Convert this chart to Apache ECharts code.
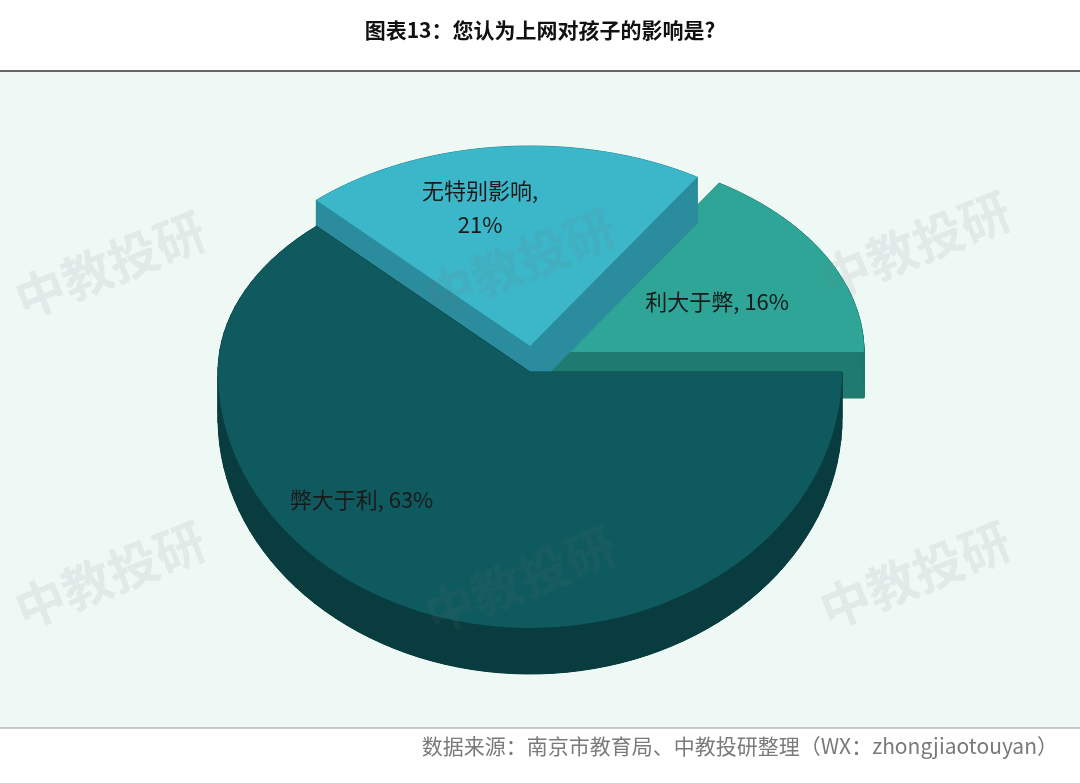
<!DOCTYPE html>
<html><head><meta charset="utf-8">
<script src="https://cdn.jsdelivr.net/npm/echarts@6/dist/echarts.min.js"></script>
<style>html,body{margin:0;background:#fff}#c{width:1080px;height:783px}</style>
</head><body><div id="c"></div>
<script>
// 数据
const names = ['利大于弊', '无特别影响', '弊大于利'];
const values = [16, 21, 63];
const labels = ['利大于弊, 16%', '无特别影响,\n21%', '弊大于利, 63%'];

// 样式
const topColors = ['#2fa597', '#3cb6c9', '#0f5a5e'];
const sideColors = ['#1f7a70', '#2a8c9c', '#093c3f'];
const offsets = [[22, -20], [0, -26], [0, 0]];
const labelAt = [[0.6, -0.35], [-0.16, -0.82], [-0.54, 0.5]];
const CX = 530, CY = 372, RX = 312, RY_UP = 200, RY_DOWN = 256, DEPTH = 46;

const total = values.reduce((a, b) => a + b, 0);
const starts = [];
let acc = 0;
values.forEach(v => { starts.push(acc / total * Math.PI * 2); acc += v; });

function renderItem(params, api) {
  const i = params.dataIndex;
  const a0 = starts[i], a1 = a0 + values[i] / total * Math.PI * 2;
  const cx = CX + offsets[i][0], cy = CY + offsets[i][1];
  const pts = [[cx, cy]];
  const n = 90;
  for (let k = 0; k <= n; k++) {
    const a = a0 + (a1 - a0) * k / n;
    const s = Math.sin(a);
    pts.push([cx + RX * Math.cos(a), cy - (s > 0 ? RY_UP : RY_DOWN) * s]);
  }
  const children = [];
  for (let k = 0; k < pts.length; k++) {
    const p = pts[k], q = pts[(k + 1) % pts.length];
    children.push({ type: 'polygon', shape: { points: [p, q, [q[0], q[1] + DEPTH], [p[0], p[1] + DEPTH]] },
      style: { fill: sideColors[i], stroke: sideColors[i], lineWidth: 1 } });
  }
  children.push({ type: 'polygon', shape: { points: pts.map(p => [p[0], p[1] + DEPTH]) }, style: { fill: sideColors[i] } });
  children.push({ type: 'polygon', shape: { points: pts }, style: { fill: topColors[i] } });
  children.push({ type: 'text', x: CX + labelAt[i][0] * RX, y: CY + labelAt[i][1] * (labelAt[i][1] < 0 ? RY_UP : RY_DOWN),
    style: { text: labels[i], fill: '#1a1a1a', font: '22px "Noto Sans CJK SC", sans-serif', align: 'center', verticalAlign: 'middle', lineHeight: 34 } });
  return { type: 'group', children };
}

const marks = [[110, 265], [520, 262], [915, 245], [110, 575], [520, 580], [915, 575]];
const watermarks = marks.map(m => ({ type: 'text', x: m[0], y: m[1], rotation: 0.38, z: 10,
  style: { text: '中教投研', fill: 'rgba(120,120,120,0.10)', font: 'bold 50px "Noto Sans CJK SC"', align: 'center', verticalAlign: 'middle' } }));

const chart = echarts.init(document.getElementById('c'));
chart.setOption({
  animation: false,
  title: { text: '图表13：您认为上网对孩子的影响是?', left: 'center', top: 15,
    textStyle: { fontSize: 21, fontWeight: 'bold', color: '#111', fontFamily: '"Noto Sans CJK SC"' } },
  graphic: [
    { type: 'rect', shape: { x: 0, y: 71, width: 1080, height: 657 }, style: { fill: '#eef8f5' }, z: -10 },
    { type: 'line', shape: { x1: 0, y1: 71, x2: 1080, y2: 71 }, style: { stroke: '#666', lineWidth: 2 } },
    { type: 'line', shape: { x1: 0, y1: 728, x2: 1080, y2: 728 }, style: { stroke: '#999', lineWidth: 1 } },
    { type: 'text', right: 22, top: 736, style: { text: '数据来源：南京市教育局、中教投研整理（WX：zhongjiaotouyan）',
      fill: '#7a7a7a', font: '21px "Noto Sans CJK SC"' } }
  ].concat(watermarks),
  series: [{ type: 'custom', coordinateSystem: 'none', renderItem, data: names.map((n, i) => ({ name: n, value: values[i] })) }]
});
</script></body></html>
